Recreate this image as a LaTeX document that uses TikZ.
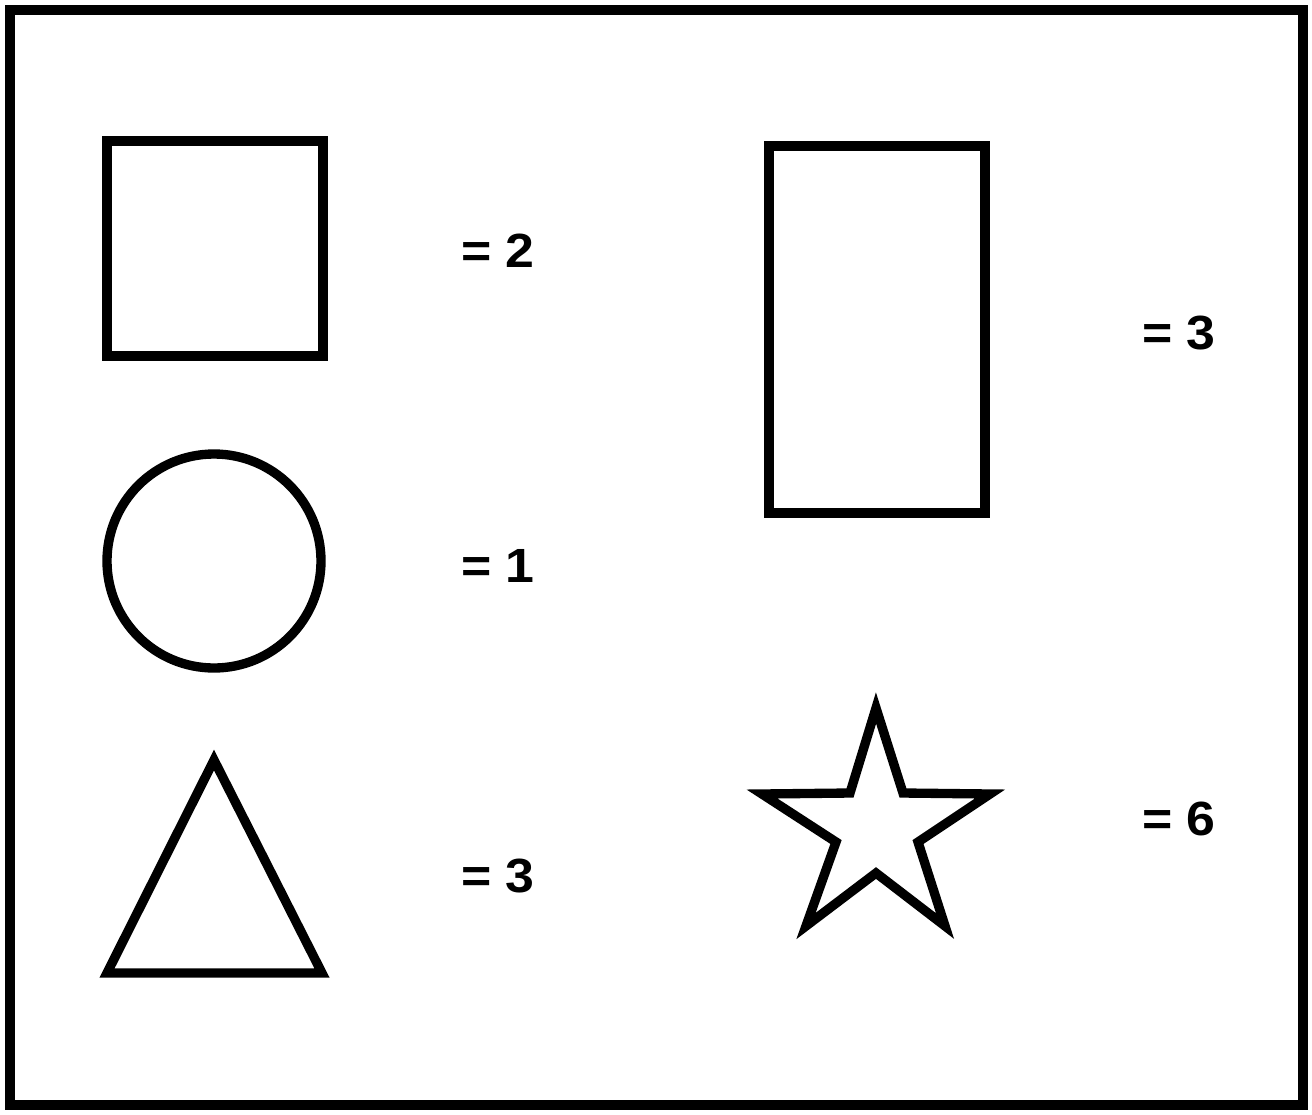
\documentclass[tikz,border=0pt]{standalone}
\usepackage{fontspec}
\setmainfont{Liberation Sans}
\newfontfamily\lblfont[FakeStretch=1.08]{Liberation Sans}
\begin{document}
\begin{tikzpicture}[x=0.75pt,y=-0.75pt,
  shp/.style={draw=black,line width=7pt,line join=miter,fill=none},
  lbl/.style={anchor=base west,inner sep=0pt,font=\lblfont\fontsize{36}{40}\selectfont\bfseries}]
\useasboundingbox (0,0) rectangle (1312,1114);
\draw[line width=7.5pt] (9.5,9.5) rectangle (1302.5,1104.5);
% left column
\draw[shp] (107,141) rectangle (323,356);
\node[lbl] (l1) at (461,267) {= 2};
\draw[shp] (214,561) circle (107);
\node[lbl] (l2) at (461,582) {= 1};
\draw[shp] (214,760) -- (322,973) -- (107,973) -- cycle;
\node[lbl] (l3) at (461,892) {= 3};
% right column
\draw[shp] (769,146) rectangle (985,513);
\node[lbl] (l4) at (1142,349) {= 3};
\draw[shp] (876,708) -- (903,793) -- (990,794) -- (918,842) -- (945,926)
  -- (876,873) -- (806,926) -- (836,842) -- (762,794) -- (850,793) -- cycle;
\node[lbl] (l5) at (1142,835) {= 6};
\end{tikzpicture}
\end{document}
